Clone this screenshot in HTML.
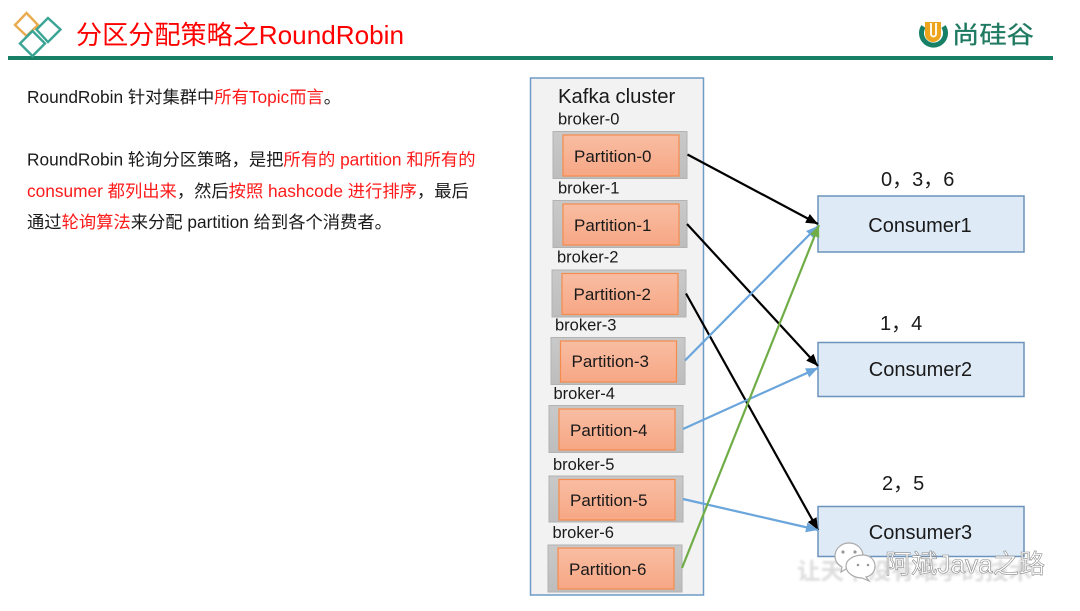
<!DOCTYPE html>
<html lang="zh"><head><meta charset="utf-8"><style>
html,body{margin:0;padding:0;background:#fff}
body{width:1080px;height:611px;overflow:hidden;position:relative}
svg{position:absolute;left:0;top:0}
text{font-family:"Liberation Sans","Noto Sans CJK SC",sans-serif;fill:#1a1a1a}
.r{fill:#ff1a1a}
</style></head><body>
<svg width="1080" height="611" viewBox="0 0 1080 611" xmlns="http://www.w3.org/2000/svg">
<defs>
<linearGradient id="g" x1="0" y1="0" x2="0" y2="1"><stop offset="0" stop-color="#f8bda3"/><stop offset="1" stop-color="#f7a784"/></linearGradient>
<linearGradient id="b" x1="0" y1="0" x2="0" y2="1"><stop offset="0" stop-color="#c9c9c9"/><stop offset="1" stop-color="#bdbdbd"/></linearGradient>
<marker id="mk" markerWidth="13" markerHeight="11" refX="12" refY="5" orient="auto" markerUnits="userSpaceOnUse"><path d="M0 0L12 5L0 10z" fill="#000"/></marker>
<marker id="mb" markerWidth="13" markerHeight="11" refX="12" refY="5" orient="auto" markerUnits="userSpaceOnUse"><path d="M0 0L12 5L0 10z" fill="#6aa5dc"/></marker>
<marker id="mg" markerWidth="13" markerHeight="11" refX="12" refY="5" orient="auto" markerUnits="userSpaceOnUse"><path d="M0 0L12 5L0 10z" fill="#70ad47"/></marker>
<filter id="bl"><feGaussianBlur stdDeviation="1"/></filter>
</defs>

<!-- header -->
<rect x="8" y="56" width="1045" height="4" fill="#178066"/>
<path d="M26.500 13L38 25L26.500 36L15 25Z" fill="none" stroke="#e9ab4e" stroke-width="2.400"/>
<path d="M48 18L60.500 29.500L48 42L36.500 29.500Z" fill="none" stroke="#3aa594" stroke-width="2.400"/>
<path d="M32.500 31L45 43.500L32.500 56L20 43.500Z" fill="none" stroke="#3aa594" stroke-width="2.400"/>
<text x="76" y="44" font-size="26" textLength="328" lengthAdjust="spacingAndGlyphs" style="fill:#ff0000">分区分配策略之RoundRobin</text>

<!-- logo -->
<path d="M923.500 26.500A12 12 0 1 0 943.500 26.500" fill="none" stroke="#178066" stroke-width="5"/>
<path d="M925 22h16v12a8 8 0 0 1-16 0z" fill="#eda51e"/>
<path d="M931 23v11a2.500 2.500 0 0 0 5 0v-11" fill="none" stroke="#fff" stroke-width="1.800"/>
<text x="952" y="43" font-size="24" textLength="82" lengthAdjust="spacingAndGlyphs" style="fill:#1f7a61;stroke:#1f7a61;stroke-width:.3px">尚硅谷</text>

<!-- left text -->
<g font-size="17.300">
<text x="27" y="103">RoundRobin 针对集群中<tspan class="r">所有Topic而言</tspan>。</text>
<text x="27" y="165.500">RoundRobin 轮询分区策略，是把<tspan class="r">所有的 partition 和所有的</tspan></text>
<text x="27" y="197"><tspan class="r">consumer 都列出来</tspan>，然后<tspan class="r">按照 hashcode 进行排序</tspan>，最后</text>
<text x="27" y="228">通过<tspan class="r">轮询算法</tspan>来分配 partition 给到各个消费者。</text>
</g>

<!-- cluster -->
<rect x="530.500" y="78" width="173" height="517" fill="#f2f2f2" stroke="#6f9bc6" stroke-width="1.500"/>
<text x="558" y="103" font-size="20.300">Kafka cluster</text>

<g font-size="16.500">
<text x="558" y="124.500">broker-0</text>
<text x="558" y="193.500">broker-1</text>
<text x="557" y="262.500">broker-2</text>
<text x="555" y="330.500">broker-3</text>
<text x="553.500" y="399">broker-4</text>
<text x="553" y="470">broker-5</text>
<text x="552.500" y="538">broker-6</text>
</g>

<g stroke="#b3b3b3" fill="url(#b)">
<rect x="553" y="131.500" width="134" height="47"/>
<rect x="553" y="200.500" width="134" height="47"/>
<rect x="552" y="270" width="134" height="47"/>
<rect x="551" y="337.500" width="134" height="47"/>
<rect x="549" y="405.500" width="134" height="47"/>
<rect x="549" y="476" width="134" height="46"/>
<rect x="548" y="545" width="134" height="47"/>
</g>
<g stroke="#f58b4c" stroke-width="1.200" fill="url(#g)">
<rect x="563" y="135" width="116" height="41"/>
<rect x="563" y="204" width="116" height="41"/>
<rect x="562" y="273.500" width="116" height="41"/>
<rect x="560.500" y="341" width="116" height="41"/>
<rect x="559" y="409" width="116" height="41"/>
<rect x="559" y="479.500" width="116" height="40.500"/>
<rect x="558" y="548" width="116" height="41"/>
</g>
<g font-size="17">
<text x="574" y="162">Partition-0</text>
<text x="574" y="231">Partition-1</text>
<text x="573.500" y="300">Partition-2</text>
<text x="571.500" y="367">Partition-3</text>
<text x="570" y="436">Partition-4</text>
<text x="570" y="506">Partition-5</text>
<text x="569" y="575">Partition-6</text>
</g>

<!-- consumers -->
<g fill="#deeaf6" stroke="#6b93bb" stroke-width="1.500">
<rect x="818" y="196" width="206" height="56"/>
<rect x="818" y="342.500" width="206" height="54"/>
<rect x="818" y="506.500" width="206" height="50"/>
</g>
<g font-size="20" text-anchor="middle">
<text x="920" y="232">Consumer1</text>
<text x="920.500" y="376">Consumer2</text>
<text x="920.500" y="539">Consumer3</text>
</g>
<g font-size="20">
<text x="881" y="186">0，3，6</text>
<text x="880" y="330">1，4</text>
<text x="882" y="490">2，5</text>
</g>

<!-- connectors -->
<g fill="none" stroke-width="2.200">
<line x1="687.500" y1="154.500" x2="818" y2="224" stroke="#000" marker-end="url(#mk)"/>
<line x1="687" y1="224" x2="818" y2="366" stroke="#000" marker-end="url(#mk)"/>
<line x1="686" y1="293.500" x2="818" y2="530" stroke="#000" marker-end="url(#mk)"/>
<line x1="685" y1="360.500" x2="818" y2="226" stroke="#6aa5dc" marker-end="url(#mb)"/>
<line x1="683" y1="429" x2="818" y2="368" stroke="#6aa5dc" marker-end="url(#mb)"/>
<line x1="683" y1="499" x2="818" y2="530" stroke="#6aa5dc" marker-end="url(#mb)"/>
<line x1="682" y1="568" x2="819" y2="225" stroke="#70ad47" marker-end="url(#mg)"/>
</g>

<!-- watermark -->
<text x="797" y="579" font-size="23" filter="url(#bl)" style="fill:#ddd;font-weight:bold" textLength="235" lengthAdjust="spacingAndGlyphs">让天下没有难学的技术</text>
<g fill="#fff" stroke="#aaa" stroke-width="1.200">
<path d="M849 543c8 0 14 6 14 13 0 8-6 13-14 13h-3l-5 3 1-5c-4-2-7-6-7-11 0-7 6-13 14-13z"/>
<path d="M863 555c7 0 12 5 12 11 0 6-4 10-9 11l3 4-7-3c-8 0-16-5-16-12 0-6 7-11 17-11z"/>
</g>
<g fill="#999"><circle cx="843" cy="552" r="1.600"/><circle cx="855" cy="552" r="1.600"/><circle cx="858" cy="565" r="1.300"/><circle cx="868" cy="565" r="1.300"/></g>
<text x="885" y="573" font-size="26" textLength="160" lengthAdjust="spacingAndGlyphs" style="fill:#fff;stroke:#8a8a8a;stroke-width:.6px">阿斌Java之路</text>
</svg>
</body></html>
